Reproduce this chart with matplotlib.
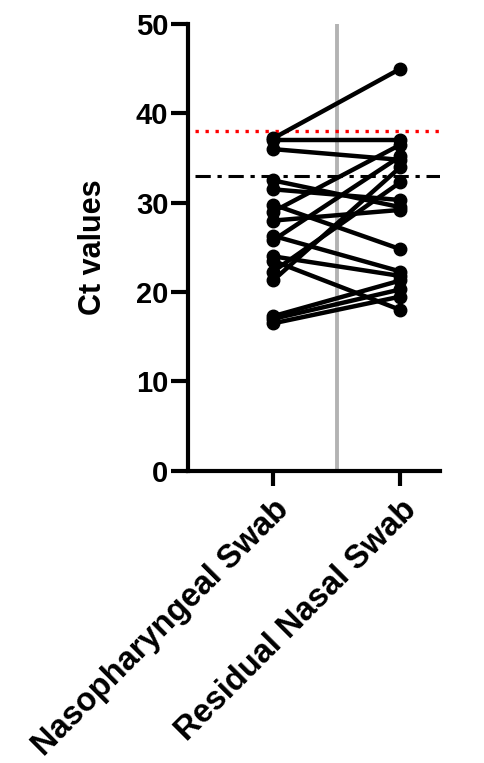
import matplotlib
matplotlib.use("Agg")
import matplotlib.pyplot as plt

categories = ["Nasopharyngeal Swab", "Residual Nasal Swab"]
np_swab = [37.2, 37.0, 36.0, 32.5, 31.5, 29.8, 29.0, 28.0, 26.3, 25.8, 24.0, 23.5, 22.3, 21.3, 17.3, 17.0, 16.5]
rn_swab = [45.0, 37.0, 34.8, 29.5, 30.3, 24.8, 36.5, 29.2, 22.3, 35.2, 21.8, 18.0, 32.3, 34.0, 21.3, 20.3, 19.5]
cutoff_red = 38
cutoff_black = 33
yticks = [0, 10, 20, 30, 40, 50]

plt.rcParams['font.family'] = ['Liberation Sans', 'DejaVu Sans']
fig = plt.figure(figsize=(4.84, 7.63), dpi=100)
ax = fig.add_axes([0.388, 0.383, 0.521, 0.5855])

ax.axvline(0.5, color="#b3b3b3", lw=2.8, zorder=1)
ax.axhline(cutoff_red, color="red", ls=(0, (1, 2.0)), lw=2.4, xmin=0.03, zorder=2)
ax.axhline(cutoff_black, color="black", ls=(0, (5, 2.2, 1.4, 2.2)), lw=2.2, xmin=0.03, zorder=2)

for a, b in zip(np_swab, rn_swab):
    ax.plot([0, 1], [a, b], color="black", lw=3.2, marker="o", ms=9, zorder=3)

ax.set_xlim(-0.67, 1.31)
ax.set_ylim(0, 50)
ax.set_yticks(yticks)
ax.set_yticklabels([str(t) for t in yticks], fontsize=21, fontweight="bold")
ax.set_xticks([0, 1])
ax.set_xticklabels(categories, rotation=45, ha="right", rotation_mode="anchor",
                   fontsize=23.5, fontweight="bold")
ax.set_ylabel("Ct values", fontsize=22, fontweight="bold", labelpad=20)

for s in ["top", "right"]:
    ax.spines[s].set_visible(False)
for s in ["left", "bottom"]:
    ax.spines[s].set_linewidth(3)
ax.tick_params(axis="y", length=12, width=3, pad=2)
ax.tick_params(axis="x", length=11, width=3, pad=6)

fig.savefig("out.png", dpi=100)
